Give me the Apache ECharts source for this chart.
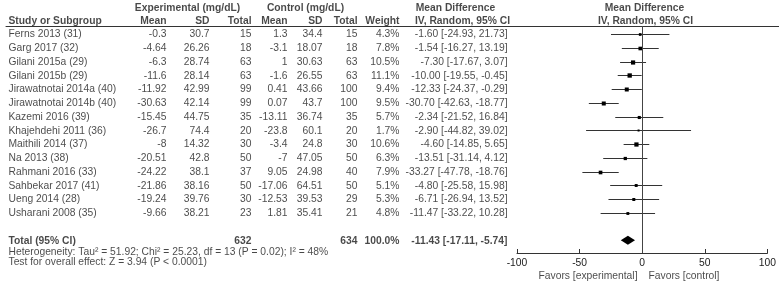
<!DOCTYPE html>
<html>
<head>
<meta charset="utf-8">
<script src="https://cdn.jsdelivr.net/npm/echarts@6/dist/echarts.min.js"></script>
<style>
  html, body { margin: 0; padding: 0; background: #fff; }
  #chart { width: 779px; height: 287px; }
</style>
</head>
<body>
<div id="chart"></div>
<script>
// study rows
var studies = ['Ferns 2013 (31)', 'Garg 2017 (32)', 'Gilani 2015a (29)', 'Gilani 2015b (29)',
  'Jirawatnotai 2014a (40)', 'Jirawatnotai 2014b (40)', 'Kazemi 2016 (39)', 'Khajehdehi 2011 (36)',
  'Maithili 2014 (37)', 'Na 2013 (38)', 'Rahmani 2016 (33)', 'Sahbekar 2017 (41)',
  'Ueng 2014 (28)', 'Usharani 2008 (35)'];
var expMean = [-0.3, -4.64, -6.3, -11.6, -11.92, -30.63, -15.45, -26.7, -8, -20.51, -24.22, -21.86, -19.24, -9.66];
var expSD = [30.7, 26.26, 28.74, 28.14, 42.99, 42.14, 44.75, 74.4, 14.32, 42.8, 38.1, 38.16, 39.76, 38.21];
var expN = [15, 18, 63, 63, 99, 99, 35, 20, 30, 50, 37, 50, 30, 23];
var ctlMean = [1.3, -3.1, 1, -1.6, 0.41, 0.07, -13.11, -23.8, -3.4, -7, 9.05, -17.06, -12.53, 1.81];
var ctlSD = [34.4, 18.07, 30.63, 26.55, 43.66, 43.7, 36.74, 60.1, 24.8, 47.05, 24.98, 64.51, 39.53, 35.41];
var ctlN = [15, 18, 63, 63, 100, 100, 35, 20, 30, 50, 40, 50, 29, 21];
var weight = [4.3, 7.8, 10.5, 11.1, 9.4, 9.5, 5.7, 1.7, 10.6, 6.3, 7.9, 5.1, 5.3, 4.8];
var md = [-1.60, -1.54, -7.30, -10.00, -12.33, -30.70, -2.34, -2.90, -4.60, -13.51, -33.27, -4.80, -6.71, -11.47];
var ciLow = [-24.93, -16.27, -17.67, -19.55, -24.37, -42.63, -21.52, -44.82, -14.85, -31.14, -47.78, -25.58, -26.94, -33.22];
var ciHigh = [21.73, 13.19, 3.07, -0.45, -0.29, -18.77, 16.84, 39.02, 5.65, 4.12, -18.76, 15.98, 13.52, 10.28];

// pooled result
var totalLabel = 'Total (95% CI)';
var totalExpN = 632;
var totalCtlN = 634;
var totalWeight = 100.0;
var totalMd = -11.43;
var totalLow = -17.11;
var totalHigh = -5.74;
var heterogeneity = 'Heterogeneity: Tau² = 51.92; Chi² = 25.23, df = 13 (P = 0.02); I² = 48%';
var overallTest = 'Test for overall effect: Z = 3.94 (P < 0.0001)';

// axis
var axisTicks = [-100, -50, 0, 50, 100];
var favorsLeft = 'Favors [experimental]';
var favorsRight = 'Favors [control]';

// row positions (in row units)
var rowIdx = studies.map(function (s, i) { return i; });
var HEAD1 = -1.95, HEAD2 = -0.98, TOTAL_ROW = 15, HET_ROW = 15.8, TEST_ROW = 16.55, FAV_ROW = 17.55;

var TXT = '#1a1a1a';
var FONT = 'Liberation Sans';
var FSIZE = 10.3;

function ci(m, l, h) {
  return m.toFixed(2) + ' [' + l.toFixed(2) + ', ' + h.toFixed(2) + ']';
}

// one column of text: x in pixels on the table axis, y in row units
function textCol(x, texts, ys, align, bold) {
  return {
    type: 'scatter',
    xAxisIndex: 0,
    yAxisIndex: 0,
    silent: true,
    clip: false,
    symbolSize: 1,
    itemStyle: { color: 'rgba(0,0,0,0)' },
    label: {
      show: true,
      position: [0, 0],
      offset: [0, 1],
      align: align,
      verticalAlign: 'middle',
      fontFamily: FONT,
      fontSize: FSIZE,
      fontWeight: bold ? 'bold' : 'normal',
      color: TXT,
      formatter: function (p) { return p.data.t; }
    },
    data: texts.map(function (t, i) { return { value: [x, ys[i]], t: String(t) }; })
  };
}

var series = [
  // headers
  textCol(188, ['Experimental (mg/dL)'], [HEAD1], 'center', true),
  textCol(306, ['Control (mg/dL)'], [HEAD1], 'center', true),
  textCol(456, ['Mean Difference'], [HEAD1], 'center', true),
  textCol(645, ['Mean Difference'], [HEAD1], 'center', true),
  textCol(9, ['Study or Subgroup'], [HEAD2], 'left', true),
  textCol(167, ['Mean'], [HEAD2], 'right', true),
  textCol(210, ['SD'], [HEAD2], 'right', true),
  textCol(252, ['Total'], [HEAD2], 'right', true),
  textCol(288, ['Mean'], [HEAD2], 'right', true),
  textCol(323, ['SD'], [HEAD2], 'right', true),
  textCol(358, ['Total'], [HEAD2], 'right', true),
  textCol(400, ['Weight'], [HEAD2], 'right', true),
  textCol(463, ['IV, Random, 95% CI'], [HEAD2], 'center', true),
  textCol(646, ['IV, Random, 95% CI'], [HEAD2], 'center', true),
  // body
  textCol(9, studies, rowIdx, 'left', false),
  textCol(167, expMean, rowIdx, 'right', false),
  textCol(210, expSD, rowIdx, 'right', false),
  textCol(252, expN, rowIdx, 'right', false),
  textCol(288, ctlMean, rowIdx, 'right', false),
  textCol(323, ctlSD, rowIdx, 'right', false),
  textCol(358, ctlN, rowIdx, 'right', false),
  textCol(400, weight.map(function (w) { return w.toFixed(1) + '%'; }), rowIdx, 'right', false),
  textCol(508, md.map(function (m, i) { return ci(m, ciLow[i], ciHigh[i]); }), rowIdx, 'right', false),
  // total
  textCol(9, [totalLabel], [TOTAL_ROW], 'left', true),
  textCol(252, [totalExpN], [TOTAL_ROW], 'right', true),
  textCol(358, [totalCtlN], [TOTAL_ROW], 'right', true),
  textCol(400, [totalWeight.toFixed(1) + '%'], [TOTAL_ROW], 'right', true),
  textCol(508, [ci(totalMd, totalLow, totalHigh)], [TOTAL_ROW], 'right', true),
  textCol(9, [heterogeneity], [HET_ROW], 'left', false),
  textCol(9, [overallTest], [TEST_ROW], 'left', false),
  textCol(638, [favorsLeft], [FAV_ROW], 'right', false),
  textCol(649, [favorsRight], [FAV_ROW], 'left', false),
  // study estimates with CI
  {
    type: 'custom',
    xAxisIndex: 1,
    yAxisIndex: 1,
    silent: true,
    data: md.map(function (m, i) { return [m, ciLow[i], ciHigh[i], i, weight[i]]; }),
    renderItem: function (params, api) {
      var p = api.coord([api.value(0), api.value(3)]);
      var l = api.coord([api.value(1), api.value(3)]);
      var h = api.coord([api.value(2), api.value(3)]);
      var y = Math.round(p[1]) + 0.5;
      var s = Math.max(2, Math.sqrt(api.value(4)) * 1.3);
      return {
        type: 'group',
        children: [
          { type: 'line', shape: { x1: l[0], y1: y, x2: h[0], y2: y }, style: { stroke: '#333', lineWidth: 1 } },
          { type: 'rect', shape: { x: p[0] - s / 2, y: y - s / 2, width: s, height: s }, style: { fill: '#000' } }
        ]
      };
    },
    markLine: {
      silent: true,
      symbol: 'none',
      label: { show: false },
      lineStyle: { color: '#444', width: 1, type: 'solid' },
      data: [{ xAxis: 0 }]
    }
  },
  // pooled diamond
  {
    type: 'custom',
    xAxisIndex: 1,
    yAxisIndex: 1,
    silent: true,
    data: [[totalMd, totalLow, totalHigh, TOTAL_ROW]],
    renderItem: function (params, api) {
      var c = api.coord([api.value(0), api.value(3)]);
      var l = api.coord([api.value(1), api.value(3)]);
      var h = api.coord([api.value(2), api.value(3)]);
      var hh = 4.5;
      return {
        type: 'polygon',
        shape: { points: [[l[0], c[1]], [c[0], c[1] - hh], [h[0], c[1]], [c[0], c[1] + hh]] },
        style: { fill: '#000' }
      };
    }
  }
];

var yRange = { min: -0.582, max: 15.927 };

var chart = echarts.init(document.getElementById('chart'), null, { renderer: 'canvas' });
chart.setOption({
  animation: false,
  textStyle: { fontFamily: FONT },
  grid: [
    { left: 6, right: 0, top: 26, bottom: 34 },
    { left: 517, width: 252, top: 26, bottom: 34 }
  ],
  xAxis: [
    {
      gridIndex: 0, type: 'value', min: 6, max: 779, position: 'top',
      axisLine: { show: true, onZero: false, lineStyle: { color: '#333', width: 1 } },
      axisTick: { show: false }, axisLabel: { show: false }, splitLine: { show: false }
    },
    {
      gridIndex: 1, type: 'value', min: axisTicks[0], max: axisTicks[axisTicks.length - 1], interval: 50,
      position: 'bottom',
      axisLine: { show: true, onZero: false, lineStyle: { color: '#333', width: 1 } },
      axisTick: { show: true, inside: true, length: 4, lineStyle: { color: '#333' } },
      axisLabel: { fontFamily: FONT, fontSize: FSIZE, color: TXT, margin: 5 },
      splitLine: { show: false }
    }
  ],
  yAxis: [
    { gridIndex: 0, type: 'value', inverse: true, min: yRange.min, max: yRange.max, show: false },
    { gridIndex: 1, type: 'value', inverse: true, min: yRange.min, max: yRange.max, show: false }
  ],
  series: series
});
</script>
</body>
</html>
